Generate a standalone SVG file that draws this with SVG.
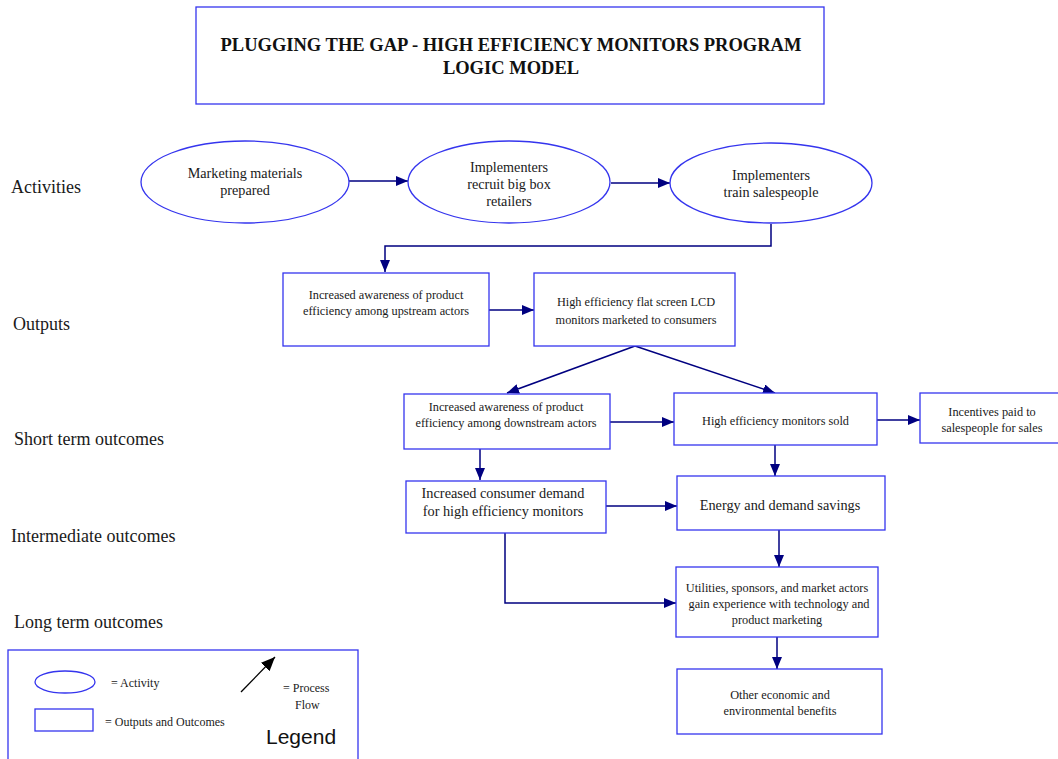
<svg xmlns="http://www.w3.org/2000/svg" width="1058" height="759" viewBox="0 0 1058 759">
  <style>
    .shape { fill: #ffffff; stroke: #3535ee; stroke-width: 1.3; }
    .conn { fill: none; stroke: #000080; stroke-width: 1.5; }
    .t { font-family: "Liberation Serif", "Times New Roman", serif; fill: #1a1a1a; text-anchor: middle; }
    .e { font-size: 14.2px; }
    .s { font-size: 12.3px; }
    .m { font-size: 14.3px; }
    .lane { font-family: "Liberation Serif", "Times New Roman", serif; font-size: 18px; fill: #1a1a1a; }
    .title { font-family: "Liberation Serif", "Times New Roman", serif; font-size: 18.5px; font-weight: bold; fill: #111; text-anchor: middle; }
    .leg { font-family: "Liberation Serif", "Times New Roman", serif; font-size: 12px; fill: #1a1a1a; }
  </style>
  <defs>
    <marker id="arr" viewBox="0 0 12 10" refX="12" refY="5" markerWidth="12" markerHeight="10" markerUnits="userSpaceOnUse" orient="auto">
      <path d="M0,0 L12,5 L0,10 Z" fill="#000080"/>
    </marker>
    <marker id="arrBlack" viewBox="0 0 14 12" refX="14" refY="6" markerWidth="14" markerHeight="12" markerUnits="userSpaceOnUse" orient="auto">
      <path d="M0,0 L14,6 L0,12 Z" fill="#000000"/>
    </marker>
  </defs>

  <rect width="1058" height="759" fill="#ffffff"/>

  <!-- Title -->
  <g id="title">
    <rect class="shape" x="196" y="7" width="628" height="97"/>
    <text class="title" x="511" y="51">PLUGGING THE GAP - HIGH EFFICIENCY MONITORS PROGRAM</text>
    <text class="title" x="511" y="74">LOGIC MODEL</text>
  </g>

  <!-- Row labels -->
  <g id="lanes">
    <text class="lane" x="11" y="193">Activities</text>
    <text class="lane" x="13" y="330">Outputs</text>
    <text class="lane" x="14" y="445">Short term outcomes</text>
    <text class="lane" x="11" y="542">Intermediate outcomes</text>
    <text class="lane" x="14" y="628">Long term outcomes</text>
  </g>

  <!-- Connectors -->
  <g id="connectors">
    <line class="conn" x1="349" y1="181" x2="408" y2="181" marker-end="url(#arr)"/>
    <line class="conn" x1="611" y1="183" x2="670" y2="183" marker-end="url(#arr)"/>
    <polyline class="conn" points="771,224 771,246 385,246 385,272" marker-end="url(#arr)"/>
    <line class="conn" x1="489" y1="310" x2="534" y2="310" marker-end="url(#arr)"/>
    <line class="conn" x1="635" y1="346" x2="507" y2="393" marker-end="url(#arr)"/>
    <line class="conn" x1="635" y1="346" x2="775" y2="393" marker-end="url(#arr)"/>
    <line class="conn" x1="610" y1="422" x2="674" y2="422" marker-end="url(#arr)"/>
    <line class="conn" x1="877" y1="420" x2="920" y2="420" marker-end="url(#arr)"/>
    <line class="conn" x1="480" y1="449" x2="480" y2="480" marker-end="url(#arr)"/>
    <line class="conn" x1="775" y1="445" x2="775" y2="476" marker-end="url(#arr)"/>
    <line class="conn" x1="606" y1="506" x2="677" y2="506" marker-end="url(#arr)"/>
    <line class="conn" x1="779" y1="530" x2="779" y2="567" marker-end="url(#arr)"/>
    <polyline class="conn" points="505,533 505,603 676,603" marker-end="url(#arr)"/>
    <line class="conn" x1="777" y1="637" x2="777" y2="669" marker-end="url(#arr)"/>
  </g>

  <!-- Activities -->
  <g id="act-marketing">
    <ellipse class="shape" cx="245" cy="182" rx="104" ry="41"/>
    <text class="t e" x="245" y="178">Marketing materials</text>
    <text class="t e" x="245" y="195">prepared</text>
  </g>
  <g id="act-recruit">
    <ellipse class="shape" cx="509" cy="182" rx="101" ry="41"/>
    <text class="t e" x="509" y="172">Implementers</text>
    <text class="t e" x="509" y="189">recruit big box</text>
    <text class="t e" x="509" y="206">retailers</text>
  </g>
  <g id="act-train">
    <ellipse class="shape" cx="771" cy="183" rx="101" ry="40"/>
    <text class="t e" x="771" y="180">Implementers</text>
    <text class="t e" x="771" y="197">train salespeople</text>
  </g>

  <!-- Outputs -->
  <g id="out-upstream">
    <rect class="shape" x="283" y="273" width="206" height="73"/>
    <text class="t s" x="386" y="299">Increased awareness of product</text>
    <text class="t s" x="386" y="315">efficiency among upstream actors</text>
  </g>
  <g id="out-marketed">
    <rect class="shape" x="534" y="273" width="201" height="73"/>
    <text class="t s" x="636" y="306">High efficiency flat screen LCD</text>
    <text class="t s" x="636" y="324">monitors marketed to consumers</text>
  </g>

  <!-- Short term outcomes -->
  <g id="st-downstream">
    <rect class="shape" x="404" y="394" width="206" height="55"/>
    <text class="t s" x="506" y="411">Increased awareness of product</text>
    <text class="t s" x="506" y="427">efficiency among downstream actors</text>
  </g>
  <g id="st-sold">
    <rect class="shape" x="674" y="393" width="203" height="52"/>
    <text class="t s" x="775.5" y="425">High efficiency monitors sold</text>
  </g>
  <g id="st-incentives">
    <rect class="shape" x="920" y="393" width="145" height="50"/>
    <text class="t s" x="992" y="416">Incentives paid to</text>
    <text class="t s" x="992" y="432">salespeople for sales</text>
  </g>

  <!-- Intermediate outcomes -->
  <g id="im-demand">
    <rect class="shape" x="406" y="481" width="200" height="52"/>
    <text class="t m" x="503" y="498">Increased consumer demand</text>
    <text class="t m" x="503" y="516">for high efficiency monitors</text>
  </g>
  <g id="im-savings">
    <rect class="shape" x="677" y="476" width="208" height="54"/>
    <text class="t m" x="780" y="510">Energy and demand savings</text>
  </g>

  <!-- Long term outcomes -->
  <g id="lt-experience">
    <rect class="shape" x="676" y="567" width="202" height="70"/>
    <text class="t s" x="777" y="592">Utilities, sponsors, and market actors</text>
    <text class="t s" x="779" y="608">gain experience with technology and</text>
    <text class="t s" x="777" y="624">product marketing</text>
  </g>
  <g id="lt-benefits">
    <rect class="shape" x="677" y="669" width="205" height="65"/>
    <text class="t s" x="780" y="699">Other economic and</text>
    <text class="t s" x="780" y="715">environmental benefits</text>
  </g>

  <!-- Legend -->
  <g id="legend">
    <rect class="shape" x="8" y="650" width="350" height="115"/>
    <ellipse class="shape" cx="65" cy="682" rx="30" ry="11"/>
    <text class="leg" x="111" y="687">= Activity</text>
    <rect class="shape" x="35" y="709" width="58" height="22"/>
    <text class="leg" x="105" y="726">= Outputs and Outcomes</text>
    <line x1="241" y1="692" x2="275" y2="657" stroke="#000000" stroke-width="1.3" marker-end="url(#arrBlack)"/>
    <text class="leg" x="283" y="692">= Process</text>
    <text class="leg" x="295" y="709">Flow</text>
    <text x="266" y="744" font-family="Liberation Sans, Arial, sans-serif" font-size="21px" fill="#111">Legend</text>
  </g>
</svg>
